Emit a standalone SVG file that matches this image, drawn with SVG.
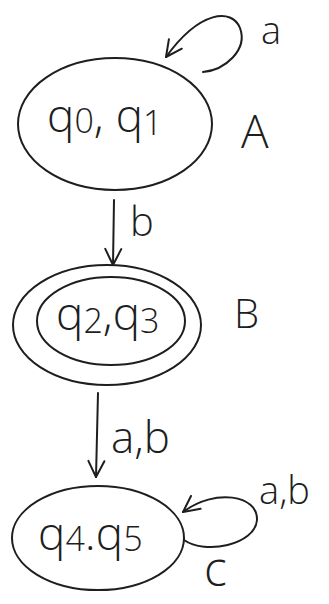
<svg xmlns="http://www.w3.org/2000/svg" width="329" height="604" viewBox="0 0 329 604">
<style>
.st{fill:none;stroke:#1e1e1e;stroke-width:2;stroke-linecap:round;stroke-linejoin:round}
.t{font-family:"Open Sans","DejaVu Sans",sans-serif;fill:#1e1e1e;font-weight:300}
.q{font-size:46px}
.sub{font-size:34px}
</style>
<defs>
<marker id="ah" viewBox="0 0 20 20" refX="18" refY="10" markerWidth="20" markerHeight="20" markerUnits="userSpaceOnUse" orient="auto">
<polyline points="2,2 18,10 2,18" fill="none" stroke="#1e1e1e" stroke-width="2" stroke-linecap="round" stroke-linejoin="round"/>
</marker>
</defs>
<rect width="329" height="604" fill="#ffffff"/>
<g id="A">
<ellipse class="st" cx="115" cy="124" rx="97" ry="66"/>
<text class="t q" x="47" y="132">q<tspan class="sub" dy="1">0</tspan><tspan dy="-1">, q</tspan><tspan class="sub" dy="3">1</tspan></text>
<text class="t" x="241" y="148" font-size="46">A</text>
</g>
<g id="B">
<ellipse class="st" cx="107" cy="325" rx="94" ry="60"/>
<ellipse class="st" cx="111" cy="321" rx="74" ry="44"/>
<text class="t q" x="56" y="330">q<tspan class="sub" dy="3">2</tspan><tspan dy="-3">,q</tspan><tspan class="sub" dy="3">3</tspan></text>
<text class="t" x="234" y="328" font-size="40">B</text>
</g>
<g id="C">
<ellipse class="st" cx="98" cy="538" rx="86" ry="52"/>
<text class="t q" x="38" y="550">q<tspan class="sub" dy="1">4</tspan><tspan dy="-1">.q</tspan><tspan class="sub" dy="1">5</tspan></text>
<text class="t" x="204" y="586" font-size="48">c</text>
</g>
<g id="connectors">
<path class="st" d="M203,72 C225,70 248,50 240,28 C232,8 200,10 166,57" marker-end="url(#ah)"/>
<text class="t" x="261" y="44" font-size="38">a</text>
<path class="st" d="M114,200 L113,265" marker-end="url(#ah)"/>
<text class="t" x="130" y="236" font-size="40">b</text>
<path class="st" d="M98,393 L96,477" marker-end="url(#ah)"/>
<text class="t" x="111" y="453" font-size="44">a,b</text>
<path class="st" d="M184,540 C205,555 255,545 257,520 C258,495 215,488 183,512" marker-end="url(#ah)"/>
<text class="t" x="259" y="504" font-size="38">a,b</text>
</g>
</svg>
